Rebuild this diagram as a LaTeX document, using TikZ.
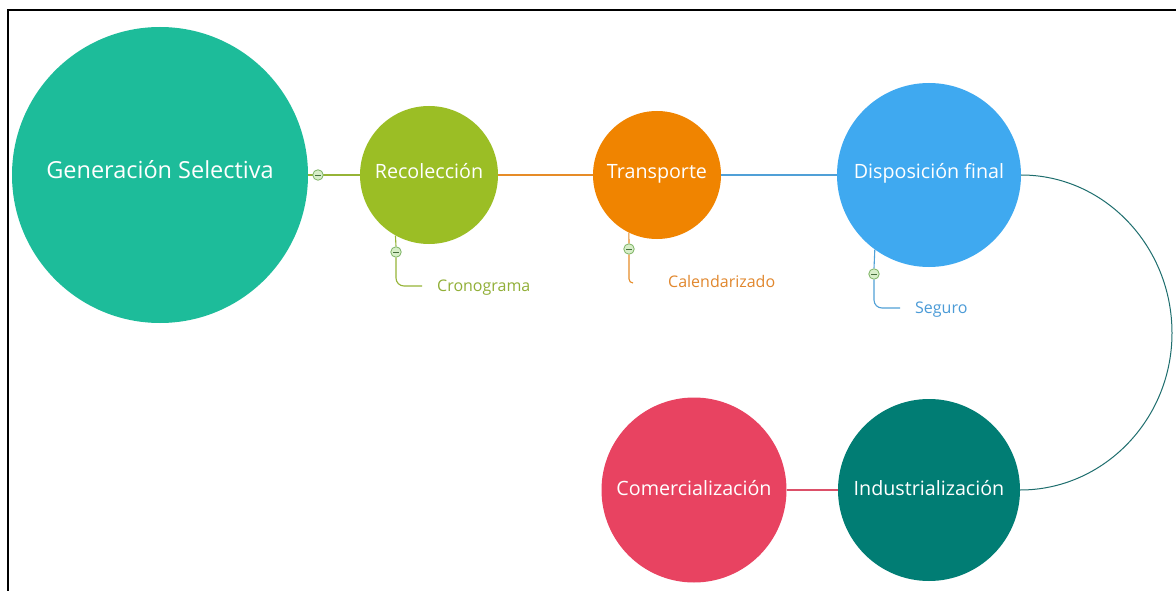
\documentclass[tikz,border=0pt]{standalone}
\usepackage{fontspec}
\setmainfont{Open Sans}
\definecolor{cgen}{RGB}{29,188,154}
\definecolor{crec}{RGB}{155,190,37}
\definecolor{ctra}{RGB}{240,132,0}
\definecolor{cdis}{RGB}{63,169,240}
\definecolor{ccom}{RGB}{232,67,97}
\definecolor{cind}{RGB}{1,125,116}
\definecolor{lgreen}{RGB}{150,180,55}
\definecolor{lorange}{RGB}{230,140,40}
\definecolor{lblue}{RGB}{80,160,215}
\definecolor{lteal}{RGB}{30,110,110}
\definecolor{lpink}{RGB}{220,80,105}
\definecolor{togfill}{RGB}{215,238,200}
\definecolor{togline}{RGB}{125,180,100}
\definecolor{togdark}{RGB}{70,110,60}
\definecolor{tgreen}{RGB}{145,175,55}
\definecolor{torange}{RGB}{225,135,45}
\definecolor{tblue}{RGB}{75,155,215}
\begin{document}
\begin{tikzpicture}[x=1pt,y=-1pt,
  bub/.style={circle,inner sep=0pt,text=white,text height=0.72em,text depth=0pt,
    font=\fontsize{19.7}{22}\selectfont},
  tog/.style={circle,draw=togline,fill=togfill,minimum size=10.5pt,inner sep=0pt,line width=0.8pt,
    path picture={\draw[togdark,line width=0.9pt]
      ([xshift=-3pt]path picture bounding box.center) -- ([xshift=3pt]path picture bounding box.center);}},
  link/.style={line width=1.1pt},
  sublabel/.style={font=\fontsize{16}{18}\selectfont,anchor=west,inner sep=0pt,text height=0.72em,text depth=0pt}]
\useasboundingbox (0,0) rectangle (1176,591);
\fill[white] (0,0) rectangle (1176,591);
\draw[line width=2pt] (7.5,591) -- (7.5,10.5) -- (1176,10.5);

% main bubbles
\node[bub,fill=cgen,minimum size=296pt,font=\fontsize{23.5}{26}\selectfont] (gen) at (160,175) {Generación Selectiva};
\node[bub,fill=crec,minimum size=138pt] (rec) at (429,175) {Recolección};
\node[bub,fill=ctra,minimum size=128pt] (tra) at (657,175) {Transporte};
\node[bub,fill=cdis,minimum size=184pt] (dis) at (929,175) {Disposición final};
\node[bub,fill=ccom,minimum size=185pt,text height=1.055em] (com) at (694,490) {Comercialización};
\node[bub,fill=cind,minimum size=182pt,text height=1.055em] (ind) at (929,490) {Industrialización};

% connectors
\draw[link,lgreen] (gen) -- (rec);
\draw[link,lorange] (rec) -- (tra);
\draw[link,lblue] (tra) -- (dis);
\coordinate (arcmid) at (1172,333);
\draw[link,lteal,line width=1pt] (dis.east) .. controls +(83,0) and +(0,-87) .. (arcmid)
  .. controls +(0,87) and +(83,0) .. (ind.east);
\draw[link,lpink] (com) -- (ind);
\node[tog] (t1) at (318,175) {};

% sub branches
\node[tog] (t2) at (396,252) {};
\coordinate (e2) at (422,286);
\node[sublabel,text=tgreen] (s2) at (437,288) {Cronograma};
\draw[link,lgreen,rounded corners=8pt] (rec.-119) -- (t2.north) (t2.south) -- (t2 |- e2) -- (e2);

\node[tog] (t3) at (629,249) {};
\coordinate (e3) at (633,283);
\node[sublabel,text=torange] (s3) at (668,284) {Calendarizado};
\draw[link,lorange,rounded corners=4pt] (tra.-116) -- (t3.north) (t3.south) -- (t3 |- e3) -- (e3);

\node[tog] (t4) at (874,274) {};
\coordinate (e4) at (900,308);
\node[sublabel,text=tblue] (s4) at (915,310) {Seguro};
\draw[link,lblue,rounded corners=8pt] (dis.-126) -- (t4.north) (t4.south) -- (t4 |- e4) -- (e4);
\end{tikzpicture}
\end{document}
